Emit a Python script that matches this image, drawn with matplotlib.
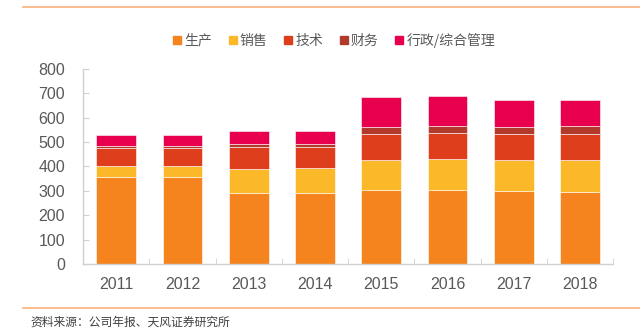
import numpy as np
import matplotlib.pyplot as plt
from matplotlib.lines import Line2D

plt.rcParams['font.family'] = ['Noto Sans CJK SC', 'DejaVu Sans']

# data (people)
years = ['2011', '2012', '2013', '2014', '2015', '2016', '2017', '2018']
production = [358, 358, 290, 292, 303, 303, 299, 296]
sales = [45, 45, 101, 100, 123, 127, 127, 129]
tech = [71, 71, 87, 86, 107, 107, 107, 108]
finance = [10, 10, 14, 16, 27, 27, 27, 31]
admin = [46, 46, 52, 50, 126, 125, 112, 107]

names = ['生产', '销售', '技术', '财务', '行政/综合管理']
colors = ['#F5841F', '#FBB829', '#DE3E1B', '#B23A2C', '#E8004E']
series = [production, sales, tech, finance, admin]

fig = plt.figure(figsize=(6.4, 3.28), dpi=100)
ax = fig.add_axes([0.13, 0.195, 0.828, 0.595])

x = np.arange(len(years))
bottom = np.zeros(len(years))
for vals, c in zip(series, colors):
    ax.bar(x, vals, width=0.6, bottom=bottom, color=c,
           edgecolor='#ffffff', linewidth=0.4, zorder=2)
    bottom += np.array(vals)

ax.set_xlim(-0.5, len(years) - 0.5)
ax.set_ylim(0, 800)
ax.set_yticks(range(0, 801, 100))
ax.set_xticks(x)
ax.set_xticklabels(years)
ax.set_xticks(np.arange(-0.5, len(years), 1), minor=True)

grey = '#d0d0d0'
for s in ['top', 'right']:
    ax.spines[s].set_visible(False)
for s in ['left', 'bottom']:
    ax.spines[s].set_color(grey)
    ax.spines[s].set_linewidth(1.0)

ax.tick_params(axis='y', direction='in', length=4, color=grey, pad=13,
               labelsize=11.5, labelcolor='#595959')
ax.tick_params(axis='x', which='major', length=0, pad=9,
               labelsize=11.5, labelcolor='#595959')
ax.tick_params(axis='x', which='minor', direction='in', length=4, color=grey)
for lab in ax.get_xticklabels() + ax.get_yticklabels():
    lab.set_fontfamily(['Liberation Sans', 'DejaVu Sans'])

handles = [Line2D([], [], marker='s', linestyle='none', markersize=5.5,
                  markerfacecolor=c, markeredgecolor=c) for c in colors]
fig.legend(handles, names, loc='center', bbox_to_anchor=(0.52, 0.878), ncol=5,
           frameon=False, fontsize=10, labelcolor='#595959',
           handletextpad=0.0, columnspacing=1.0, handlelength=1.0)

# orange rules and source
fig.add_artist(Line2D([23 / 640, 1.0], [1 - 7 / 328] * 2, color='#F9B27A', lw=1.2))
fig.add_artist(Line2D([23 / 640, 1.0], [1 - 308 / 328] * 2, color='#F9B27A', lw=1.2))
fig.text(30 / 640, 1 - 322 / 328, '资料来源：公司年报、天风证券研究所', fontsize=8.5,
         color='#404040', va='center', ha='left')

fig.savefig('out.png', dpi=100)
